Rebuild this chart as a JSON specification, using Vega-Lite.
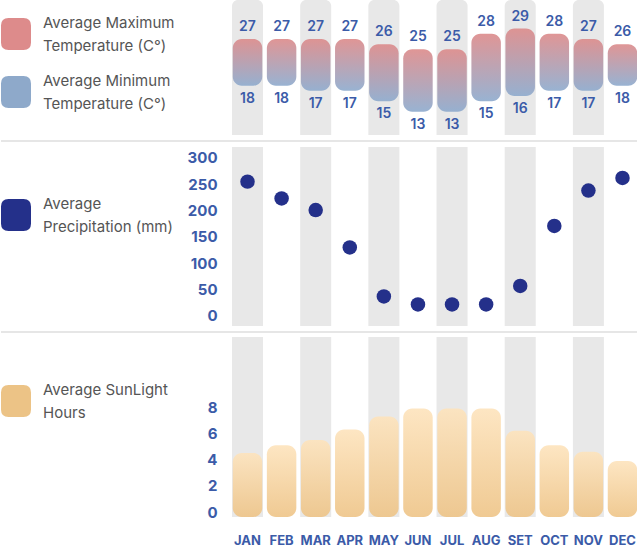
{
  "$schema": "https://vega.github.io/schema/vega-lite/v6.json",
  "padding": 0,
  "background": "white",
  "bounds": "flush",
  "spacing": 6,
  "config": {
    "view": {"stroke": null},
    "font": "Inter",
    "axis": {"labelOverlap": false},
    "text": {"font": "Inter", "fontWeight": 600, "fontSize": 14, "color": "#3b5ba8"}
  },
  "data": {
    "values": [
      {"month": "JAN", "max": 27, "min": 18, "precip": 255, "sun": 4.5, "shade": true},
      {"month": "FEB", "max": 27, "min": 18, "precip": 223, "sun": 5.1, "shade": false},
      {"month": "MAR", "max": 27, "min": 17, "precip": 201, "sun": 5.5, "shade": true},
      {"month": "APR", "max": 27, "min": 17, "precip": 130, "sun": 6.3, "shade": false},
      {"month": "MAY", "max": 26, "min": 15, "precip": 37, "sun": 7.3, "shade": true},
      {"month": "JUN", "max": 25, "min": 13, "precip": 22, "sun": 7.9, "shade": false},
      {"month": "JUL", "max": 25, "min": 13, "precip": 22, "sun": 7.9, "shade": true},
      {"month": "AUG", "max": 28, "min": 15, "precip": 22, "sun": 7.9, "shade": false},
      {"month": "SET", "max": 29, "min": 16, "precip": 57, "sun": 6.2, "shade": true},
      {"month": "OCT", "max": 28, "min": 17, "precip": 171, "sun": 5.1, "shade": false},
      {"month": "NOV", "max": 27, "min": 17, "precip": 238, "sun": 4.6, "shade": true},
      {"month": "DEC", "max": 26, "min": 18, "precip": 262, "sun": 3.9, "shade": false}
    ]
  },
  "resolve": {"scale": {"color": "independent", "y": "independent"}, "legend": {"color": "independent"}},
  "vconcat": [
    {
      "width": 637,
      "height": 135,
      "layer": [
        {
          "transform": [{"filter": "datum.shade"}],
          "mark": {"type": "rect", "color": "#e8e8e8", "cornerRadiusTopLeft": 6, "cornerRadiusTopRight": 6},
          "encoding": {
            "x": {"field": "month", "type": "nominal", "sort": null, "axis": null, "scale": {"domain": ["JAN","FEB","MAR","APR","MAY","JUN","JUL","AUG","SET","OCT","NOV","DEC"], "range": [231, 637], "paddingInner": 0.09, "paddingOuter": 0}},
            "y": {"datum": 34.5, "type": "quantitative", "axis": null, "scale": {"domain": [8.5, 34.5], "nice": false, "zero": false}},
            "y2": {"datum": 8.5}
          }
        },
        {
          "mark": {"type": "bar", "cornerRadius": 9, "opacity": 0.9, "width": {"band": 0.95},
            "color": {"gradient": "linear", "x1": 0, "y1": 0, "x2": 0, "y2": 1, "stops": [{"offset": 0, "color": "#dc8a8a"}, {"offset": 1, "color": "#8daacd"}]}},
          "encoding": {
            "x": {"field": "month", "type": "nominal", "sort": null, "axis": null},
            "y": {"field": "max", "type": "quantitative", "axis": null},
            "y2": {"field": "min"}
          }
        },
        {
          "mark": {"type": "text", "dy": -12},
          "encoding": {
            "x": {"field": "month", "type": "nominal", "sort": null, "axis": null},
            "y": {"field": "max", "type": "quantitative", "axis": null},
            "text": {"field": "max"}
          }
        },
        {
          "mark": {"type": "text", "dy": 13},
          "encoding": {
            "x": {"field": "month", "type": "nominal", "sort": null, "axis": null},
            "y": {"field": "min", "type": "quantitative", "axis": null},
            "text": {"field": "min"}
          }
        },
        {
          "transform": [{"fold": ["max", "min"], "as": ["key", "val"]}],
          "mark": {"type": "circle", "opacity": 0},
          "encoding": {
            "x": {"field": "month", "type": "nominal", "sort": null, "axis": null},
            "y": {"field": "val", "type": "quantitative", "axis": null},
            "color": {
              "field": "key", "type": "nominal",
              "scale": {"domain": ["max", "min"], "range": ["#dd8b8b", "#8ea9ca"]},
              "legend": {
                "title": null, "orient": "none", "legendX": 0, "legendY": 19, "padding": 0,
                "symbolType": "M -0.5 -1.07 H 0.5 Q 1 -1.07 1 -0.57 V 0.57 Q 1 1.07 0.5 1.07 H -0.5 Q -1 1.07 -1 0.57 V -0.57 Q -1 -1.07 -0.5 -1.07 Z",
                "symbolSize": 900, "symbolOpacity": 1, "symbolStrokeWidth": 0,
                "labelFont": "Inter", "labelFontSize": 15, "labelColor": "#555555", "labelOffset": 12, "labelLimit": 220,
                "rowPadding": 19, "labelBaseline": "middle",
                "labelExpr": "datum.value == 'max' ? ['Average Maximum', 'Temperature (C°)'] : ['Average Minimum', 'Temperature (C°)']",
                "encode": {"labels": {"update": {"lineHeight": {"value": 23}, "dy": {"value": -11.5}}}}
              }
            }
          }
        }
      ]
    },
    {
      "width": 637,
      "height": 185,
      "layer": [
        {
          "data": {"values": [{}]},
          "mark": {"type": "rule", "color": "#e6e6e6", "strokeWidth": 2},
          "encoding": {
            "y": {"datum": 332.1, "type": "quantitative", "scale": {"domain": [-19, 332.1], "nice": false, "zero": false}, "axis": {"title": null, "values": [0,50,100,150,200,250,300], "labelOverlap": false, "offset": -222, "domain": false, "ticks": false, "tickSize": 0, "grid": false, "labelPadding": 6, "labelFont": "Inter", "labelFontWeight": 700, "labelFontSize": 15, "labelColor": "#3b5ba8"}}
          }
        },
        {
          "transform": [{"filter": "datum.shade"}],
          "mark": {"type": "rect", "color": "#e8e8e8"},
          "encoding": {
            "x": {"field": "month", "type": "nominal", "sort": null, "axis": null, "scale": {"domain": ["JAN","FEB","MAR","APR","MAY","JUN","JUL","AUG","SET","OCT","NOV","DEC"], "range": [231, 637], "paddingInner": 0.09, "paddingOuter": 0}},
            "y": {"datum": 320.7, "type": "quantitative", "axis": {"title": null, "values": [0,50,100,150,200,250,300], "labelOverlap": false, "offset": -222, "domain": false, "ticks": false, "tickSize": 0, "grid": false, "labelPadding": 6, "labelFont": "Inter", "labelFontWeight": 700, "labelFontSize": 15, "labelColor": "#3b5ba8"}},
            "y2": {"datum": -19}
          }
        },
        {
          "mark": {"type": "circle", "size": 210, "opacity": 1},
          "encoding": {
            "x": {"field": "month", "type": "nominal", "sort": null, "axis": null},
            "y": {"field": "precip", "type": "quantitative", "axis": {"title": null, "values": [0,50,100,150,200,250,300], "labelOverlap": false, "offset": -222, "domain": false, "ticks": false, "tickSize": 0, "grid": false, "labelPadding": 6, "labelFont": "Inter", "labelFontWeight": 700, "labelFontSize": 15, "labelColor": "#3b5ba8"}},
            "color": {
              "datum": "precip", "type": "nominal",
              "scale": {"domain": ["precip"], "range": ["#24308a"]},
              "legend": {
                "title": null, "orient": "none", "legendX": 0, "legendY": 59, "padding": 0,
                "symbolType": "M -0.5 -1.07 H 0.5 Q 1 -1.07 1 -0.57 V 0.57 Q 1 1.07 0.5 1.07 H -0.5 Q -1 1.07 -1 0.57 V -0.57 Q -1 -1.07 -0.5 -1.07 Z",
                "symbolSize": 900, "symbolOpacity": 1, "symbolStrokeWidth": 0,
                "labelFont": "Inter", "labelFontSize": 15, "labelColor": "#555555", "labelOffset": 12, "labelLimit": 220,
                "labelBaseline": "middle",
                "labelExpr": "['Average', 'Precipitation (mm)']",
                "encode": {"labels": {"update": {"lineHeight": {"value": 23}, "dy": {"value": -11.5}}}}
              }
            }
          }
        }
      ]
    },
    {
      "width": 637,
      "height": 185,
      "layer": [
        {
          "data": {"values": [{}]},
          "mark": {"type": "rule", "color": "#e6e6e6", "strokeWidth": 2},
          "encoding": {
            "y": {"datum": 13.74, "type": "quantitative", "scale": {"domain": [-0.38, 13.74], "nice": false, "zero": false}, "axis": {"title": null, "values": [0,2,4,6,8], "labelOverlap": false, "offset": -222, "domain": false, "ticks": false, "tickSize": 0, "grid": false, "labelPadding": 6, "labelFont": "Inter", "labelFontWeight": 700, "labelFontSize": 15, "labelColor": "#3b5ba8"}}
          }
        },
        {
          "transform": [{"filter": "datum.shade"}],
          "mark": {"type": "rect", "color": "#e8e8e8"},
          "encoding": {
            "x": {"field": "month", "type": "nominal", "sort": null, "scale": {"domain": ["JAN","FEB","MAR","APR","MAY","JUN","JUL","AUG","SET","OCT","NOV","DEC"], "range": [231, 637], "paddingInner": 0.09, "paddingOuter": 0},
              "axis": {"title": null, "domain": false, "ticks": false, "tickSize": 0, "grid": false, "labelPadding": 17, "labelAngle": 0, "labelFont": "Inter", "labelFontWeight": 700, "labelFontSize": 13, "labelColor": "#3b5ba8"}},
            "y": {"datum": 13.36, "type": "quantitative"},
            "y2": {"datum": -0.38}
          }
        },
        {
          "mark": {"type": "bar", "cornerRadius": 9, "opacity": 0.9, "width": {"band": 0.95},
            "color": {"gradient": "linear", "x1": 0, "y1": 0, "x2": 0, "y2": 1, "stops": [{"offset": 0, "color": "#fde3bc"}, {"offset": 1, "color": "#eec487"}]}},
          "encoding": {
            "x": {"field": "month", "type": "nominal", "sort": null},
            "y": {"field": "sun", "type": "quantitative"},
            "y2": {"datum": -0.38}
          }
        },
        {
          "mark": {"type": "circle", "opacity": 0},
          "encoding": {
            "x": {"field": "month", "type": "nominal", "sort": null},
            "y": {"field": "sun", "type": "quantitative"},
            "color": {
              "datum": "sun", "type": "nominal",
              "scale": {"domain": ["sun"], "range": ["#ecc386"]},
              "legend": {
                "title": null, "orient": "none", "legendX": 0, "legendY": 54, "padding": 0,
                "symbolType": "M -0.5 -1.07 H 0.5 Q 1 -1.07 1 -0.57 V 0.57 Q 1 1.07 0.5 1.07 H -0.5 Q -1 1.07 -1 0.57 V -0.57 Q -1 -1.07 -0.5 -1.07 Z",
                "symbolSize": 900, "symbolOpacity": 1, "symbolStrokeWidth": 0,
                "labelFont": "Inter", "labelFontSize": 15, "labelColor": "#555555", "labelOffset": 12, "labelLimit": 220,
                "labelBaseline": "middle",
                "labelExpr": "['Average SunLight', 'Hours']",
                "encode": {"labels": {"update": {"lineHeight": {"value": 23}, "dy": {"value": -11.5}}}}
              }
            }
          }
        }
      ]
    }
  ]
}
